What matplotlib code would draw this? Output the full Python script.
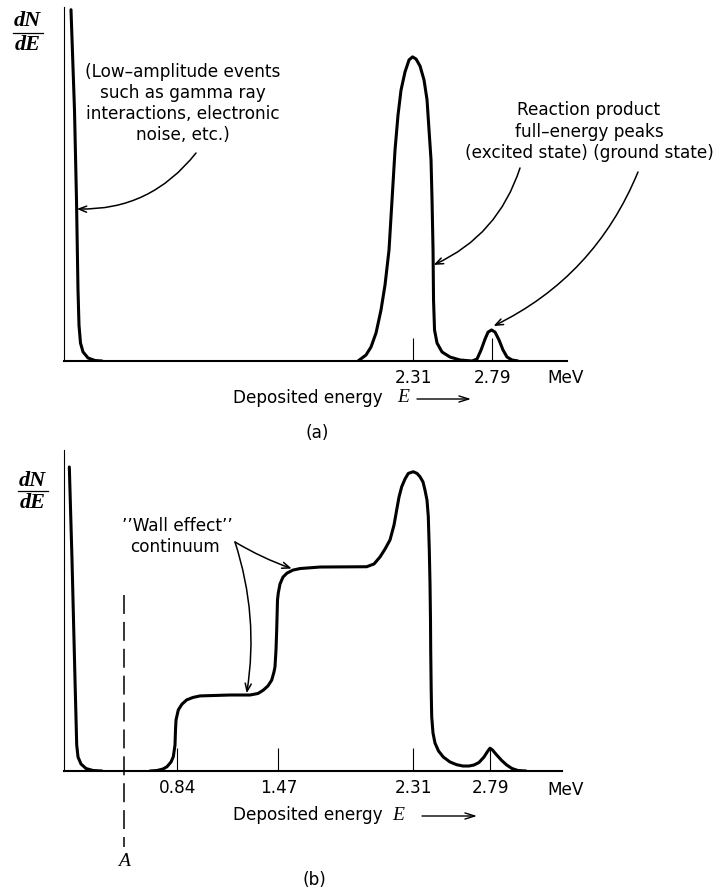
import matplotlib
matplotlib.use("Agg")
import matplotlib.pyplot as plt
from matplotlib.lines import Line2D

# ------------------------------------------------------------------
# Data (energy in MeV, dN/dE in arbitrary units)
# ------------------------------------------------------------------
# Panel (a)
a_spike_E = [0.2321, 0.2533, 0.2655, 0.2746, 0.2807, 0.2898, 0.3050, 0.3354, 0.3779, 0.4204]
a_spike_N = [115.5, 82.6, 53.0, 23.4, 11.8, 5.9, 3.0, 1.0, 0.16, 0.0]
a_peaks_E = [1.9757, 2.0243, 2.0547, 2.0851, 2.1154, 2.1397, 2.1640, 2.1823, 2.2005, 2.2187,
             2.2370, 2.2613, 2.2856, 2.3068, 2.3281, 2.3524, 2.3767, 2.3949, 2.4070, 2.4192,
             2.4253, 2.4314, 2.4344, 2.4405, 2.4557, 2.4861, 2.5346, 2.5954, 2.6683, 2.6987,
             2.7230, 2.7473, 2.7655, 2.7868, 2.8080, 2.8323, 2.8566, 2.8809, 2.9113, 2.9478]
a_peaks_N = [0, 1.97, 4.61, 9.21, 16.78, 25.0, 36.5, 52.96, 69.4, 80.9,
             89.1, 95.07, 99.0, 100, 99.3, 97.0, 92.4, 85.9, 76.0, 66.1,
             53.0, 36.5, 20.1, 10.2, 5.9, 2.96, 1.3, 0.33, 0, 0.66,
             3.6, 7.2, 9.5, 10.2, 9.5, 6.9, 3.6, 1.3, 0.33, 0]
a_ticks = [2.31, 2.79]
a_ticklabels = ["2.31", "2.79"]

# Panel (b)
b_spike_E = [0.1652, 0.1820, 0.2007, 0.2113, 0.2194, 0.2381, 0.2693, 0.3130, 0.3691]
b_spike_N = [100.0, 69.4, 29.9, 8.55, 4.6, 2.3, 0.82, 0.16, 0.0]
b_cont_E = [0.6686, 0.7123, 0.7498, 0.7747, 0.7997, 0.8140, 0.8246, 0.8277, 0.8309, 0.8452,
            0.8683, 0.8976, 0.9369, 0.9806, 1.1677, 1.2925, 1.3424, 1.3755, 1.4048, 1.4279,
            1.4423, 1.4485, 1.4547, 1.4591, 1.4641, 1.4691, 1.4797, 1.4984, 1.5234, 1.5608,
            1.6045, 1.7293, 2.0206, 2.0662, 2.1036, 2.1348, 2.1660, 2.1910, 2.2078, 2.2222,
            2.2390, 2.2596, 2.2802, 2.3114, 2.3345, 2.3532, 2.3719, 2.3844, 2.3969, 2.4050,
            2.4112, 2.4156, 2.4187, 2.4200, 2.4231, 2.4262, 2.4343, 2.4468, 2.4686, 2.4986,
            2.5404, 2.5822, 2.6215, 2.6589, 2.6901, 2.7213, 2.7525, 2.7743, 2.7899, 2.8055,
            2.8318, 2.8630, 2.8942, 2.9272, 2.9647, 3.0146]
b_cont_N = [0, 0.16, 0.66, 1.41, 2.96, 4.7, 8.55, 13.5, 16.8, 20.1,
            22.0, 23.4, 24.2, 24.7, 25.0, 25.0, 25.5, 26.6, 28.0, 29.9,
            32.6, 34.3, 39.8, 46.4, 56.25, 58.6, 61.5, 63.8, 65.1, 66.1,
            66.6, 67.1, 67.2, 68.1, 70.4, 73.0, 76.0, 80.9, 85.9, 90.1,
            93.5, 96.05, 97.9, 98.45, 97.9, 96.8, 95.1, 92.4, 89.1, 83.65,
            72.7, 61.8, 49.7, 39.8, 26.6, 17.9, 12.5, 9.2, 6.6, 4.6,
            2.96, 2.07, 1.64, 1.64, 1.97, 2.8, 4.6, 6.4, 7.5, 6.9,
            5.26, 3.45, 1.97, 0.82, 0.16, 0]
b_ticks = [0.84, 1.47, 2.31, 2.79]
b_ticklabels = ["0.84", "1.47", "2.31", "2.79"]
threshold_A = 0.506

# ------------------------------------------------------------------
W, H = 719, 893
fig = plt.figure(figsize=(W / 100, H / 100), dpi=100)
fig.patch.set_facecolor("white")


def fp(x, y):
    """pixel (from top-left) -> figure fraction"""
    return x / W, 1 - y / H


LW = 2.2
FS = 12.2
SERIF = ["Liberation Serif", "DejaVu Serif"]

axA = fig.add_axes([64 / W, 1 - 361 / H, (567 - 64) / W, (361 - 7) / H])
axA.set_xlim(0.1896, 3.2452)
axA.set_ylim(0, 116.4)

axB = fig.add_axes([64 / W, 1 - 771 / H, (562 - 64) / W, (771 - 450) / H])
axB.set_xlim(0.132, 3.2392)
axB.set_ylim(0, 105.6)

for ax, ticks, labels in ((axA, a_ticks, a_ticklabels), (axB, b_ticks, b_ticklabels)):
    for s in ("top", "right"):
        ax.spines[s].set_visible(False)
    ax.spines["left"].set_linewidth(0.8)
    ax.spines["bottom"].set_linewidth(1.5)
    ax.set_yticks([])
    ax.set_xticks(ticks)
    ax.set_xticklabels(labels)
    ax.tick_params(axis="x", direction="in", length=16.5, width=0.8, pad=5.5,
                   labelsize=FS)
    ax.patch.set_visible(False)

# curves
kw = dict(color="black", lw=LW, solid_capstyle="round", solid_joinstyle="round")
axA.plot(a_spike_E, a_spike_N, **kw)
axA.plot(a_peaks_E, a_peaks_N, **kw)
axB.plot(b_spike_E, b_spike_N, **kw)
axB.plot(b_cont_E, b_cont_N, **kw)

# threshold A (dashed)
axB.plot([threshold_A, threshold_A], [57.9, -25.0], color="black", lw=1.1,
         dashes=(12.4, 5.2), clip_on=False)
fig.text(*fp(124, 862), "A", family=SERIF, style="italic", fontsize=14,
         ha="center", va="center")

# dN/dE labels
for (cx, yN, ybar, yE) in ((27.5, 21.5, 33, 45.5), (32.5, 480.5, 490.5, 502.5)):
    fig.text(*fp(cx, yN), "dN", family=SERIF, style="italic", weight="bold",
             fontsize=16, ha="center", va="center")
    fig.text(*fp(cx, yE), "dE", family=SERIF, style="italic", weight="bold",
             fontsize=16, ha="center", va="center")
    x0, y0 = fp(cx - 15, ybar)
    x1, _ = fp(cx + 15, ybar)
    fig.add_artist(Line2D([x0, x1], [y0, y0], color="black", lw=0.9,
                          transform=fig.transFigure))

# axis labels
for (yl, xE, xa0, xa1, xmev, ymev) in ((398, 403, 417, 471, 566, 378),
                                       (815, 398, 422, 477, 565.5, 790)):
    fig.text(*fp(233, yl), "Deposited energy", fontsize=FS, ha="left", va="center")
    fig.text(*fp(xE, yl), "E", family=SERIF, style="italic", fontsize=14,
             ha="center", va="center")
    fig.text(*fp(xmev, ymev), "MeV", fontsize=FS, ha="center", va="center")
    axA.annotate("", xy=fp(xa1, yl + 1), xycoords="figure fraction",
                 xytext=fp(xa0, yl + 1), textcoords="figure fraction",
                 arrowprops=dict(arrowstyle="->,head_length=0.7,head_width=0.22",
                                 lw=1.0, color="black", shrinkA=0, shrinkB=0),
                 annotation_clip=False)

fig.text(*fp(317.5, 433), "(a)", fontsize=FS, ha="center", va="center")
fig.text(*fp(314, 880), "(b)", fontsize=FS, ha="center", va="center")

# annotation texts
for txt, y in zip(["(Low\u2013amplitude events", "such as gamma ray",
                   "interactions, electronic", "noise, etc.)"], [72, 93, 114, 135]):
    fig.text(*fp(183, y), txt, fontsize=FS, ha="center", va="center")
for txt, y in zip(["Reaction product", "full\u2013energy peaks",
                   "(excited state) (ground state)"], [110, 131.7, 153.3]):
    fig.text(*fp(589, y), txt, fontsize=FS, ha="center", va="center")
fig.text(*fp(177, 526), "\u2019\u2019Wall effect\u2019\u2019", fontsize=FS,
         ha="center", va="center")
fig.text(*fp(175, 547), "continuum", fontsize=FS, ha="center", va="center")

# arrows
aprops = dict(arrowstyle="->,head_length=0.55,head_width=0.22", lw=1.1,
              color="black", shrinkA=0, shrinkB=0)


def arrow(ax, tip, tail_px, rad):
    p = dict(aprops)
    p["connectionstyle"] = f"arc3,rad={rad}"
    ax.annotate("", xy=tip, xycoords="data", xytext=fp(*tail_px),
                textcoords="figure fraction", arrowprops=p, annotation_clip=False)


arrow(axA, (0.268, 50.0), (196, 153), -0.25)
arrow(axA, (2.435, 31.6), (520, 168), -0.22)
arrow(axA, (2.799, 11.5), (638, 172), -0.19)
arrow(axB, (1.5527, 66.6), (235, 542), 0.05)
arrow(axB, (1.272, 25.6), (235, 542), -0.12)

fig.savefig("out.png", dpi=100, facecolor="white")
